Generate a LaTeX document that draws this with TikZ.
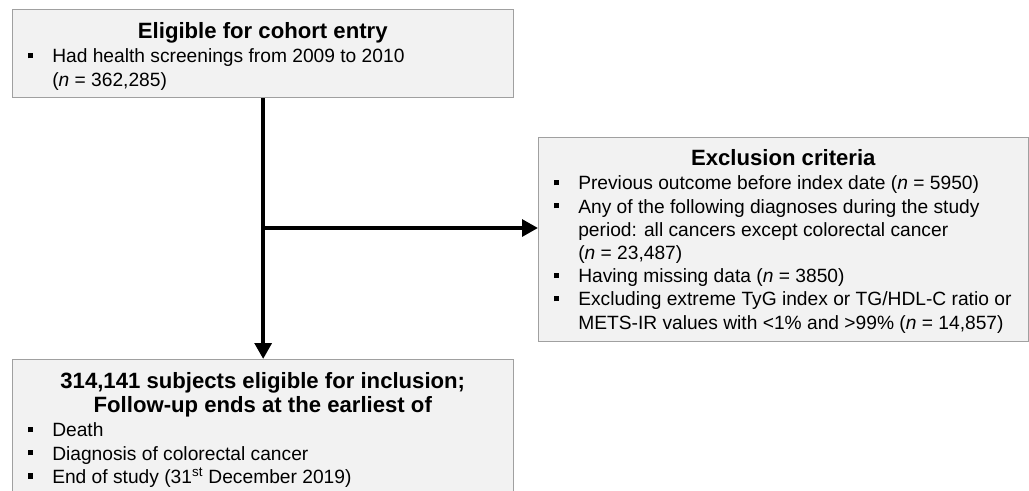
\documentclass[tikz,border=0pt]{standalone}
\usepackage{fontspec}
\setmainfont{Liberation Sans}
\usetikzlibrary{arrows.meta, positioning}

\definecolor{boxfill}{HTML}{F2F2F2}
\definecolor{boxline}{HTML}{A0A0A0}

\newcommand{\bitem}{\par\hangindent=30pt\hangafter=1\noindent\hspace*{11.6pt}\rule[3.4pt]{3.9pt}{3.9pt}\hspace*{14.5pt}}
\newcommand{\boxtitle}[1]{{\centering\fontsize{16.6}{18}\selectfont\bfseries #1\par}\vspace{1.2pt}\raggedright}

\begin{document}
\begin{tikzpicture}[x=0.75pt, y=-0.75pt,
            box/.style={draw=boxline, fill=boxfill, line width=1pt, anchor=north west, inner sep=0pt},
            box text/.style={anchor=base west, inner sep=0pt, font=\fontsize{14.4}{17.4}\selectfont},
            flow/.style={line width=3pt, -{Triangle[length=12pt, width=12.5pt]}}]

            \useasboundingbox (0,0) rectangle (1029,490);

            % Boxes
            \node[box, minimum width=375.75pt, minimum height=66pt] (entry) at (12,9) {};
            \node[box, minimum width=367.5pt, minimum height=153pt] (excl) at (538,137) {};
            \node[box, minimum width=375.75pt, minimum height=102pt] (incl) at (12,359) {};

            % Box contents
            \node[box text] (entry text) at (12,38) {\parbox[t]{375.75pt}{%
                \boxtitle{Eligible for cohort entry}
                \bitem Had health screenings from 2009 to 2010\newline
                (\textit{n} = 362,285)}};

            \node[box text] (excl text) at (538,165) {\parbox[t]{367.5pt}{%
                \boxtitle{Exclusion criteria}
                \bitem Previous outcome before index date (\textit{n} = 5950)
                \bitem Any of the following diagnoses during the study\newline
                period: all cancers except colorectal cancer\newline
                (\textit{n} = 23,487)
                \bitem Having missing data (\textit{n} = 3850)
                \bitem Excluding extreme TyG index or TG/HDL-C ratio or\newline
                METS-IR values with <1\% and >99\% (\textit{n} = 14,857)}};

            \node[box text] (incl text) at (12,388) {\parbox[t]{375.75pt}{%
                \boxtitle{314,141 subjects eligible for inclusion;\\ Follow-up ends at the earliest of}
                \bitem Death
                \bitem Diagnosis of colorectal cancer
                \bitem End of study (31\textsuperscript{st} December 2019)}};

            % Flow arrows
            \coordinate (branch) at (262.5,228);
            \draw[flow] (entry.south) -- (incl.north);
            \draw[flow] (branch) -- (branch -| excl.west);
\end{tikzpicture}
\end{document}
